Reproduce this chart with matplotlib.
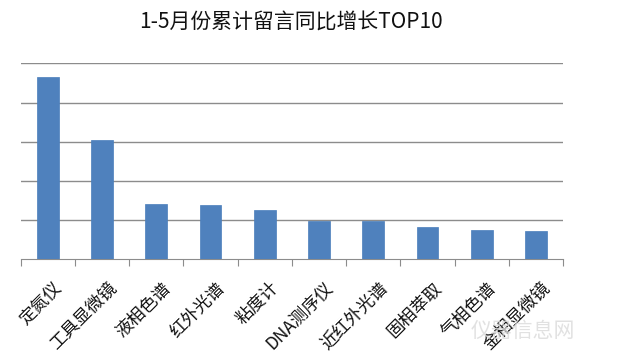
import matplotlib
matplotlib.use('Agg')
import matplotlib.pyplot as plt

plt.rcParams['font.family'] = ['Noto Sans CJK SC', 'DejaVu Sans']

categories = ['定氮仪', '工具显微镜', '液相色谱', '红外光谱', '粘度计',
              'DNA测序仪', '近红外光谱', '固相萃取', '气相色谱', '金相显微镜']
values = [4.65, 3.04, 1.41, 1.39, 1.26, 0.99, 0.98, 0.82, 0.75, 0.73]

fig = plt.figure(figsize=(6.36, 3.52), dpi=100)
ax = fig.add_axes([0.0325, 0.263, 0.853, 0.557])

x = range(len(categories))
ax.bar(x, values, width=0.4, color='#4F81BD', edgecolor='#4A7EBB', linewidth=0.5, zorder=3)

ax.set_xlim(-0.5, len(categories) - 0.5)
ax.set_ylim(0, 5)
ax.set_yticks([1, 2, 3, 4, 5])
ax.yaxis.grid(True, color='#8c8c8c', linewidth=1.0, zorder=0)
ax.tick_params(axis='y', length=0, labelleft=False)

# category boundary ticks on the x axis
ax.set_xticks([i - 0.5 for i in range(len(categories) + 1)])
ax.set_xticklabels([])
ax.tick_params(axis='x', direction='out', length=5, color='#8c8c8c')
for i, c in enumerate(categories):
    ax.text(i + 0.1, -0.5, c, rotation=45, ha='right', va='top',
            rotation_mode='anchor', fontsize=12.5, color='#111111')

for s in ['top', 'right', 'left']:
    ax.spines[s].set_visible(False)
ax.spines['bottom'].set_color('#8c8c8c')

fig.text(0.457, 0.938, '1-5月份累计留言同比增长TOP10', ha='center', va='center',
         fontsize=15, color='#111111')

# faint watermark
fig.text(0.74, 0.06, '仪器信息网', fontsize=15, color='#dadada', alpha=0.8,
         ha='left', va='center')

fig.savefig('out.png', dpi=100)
